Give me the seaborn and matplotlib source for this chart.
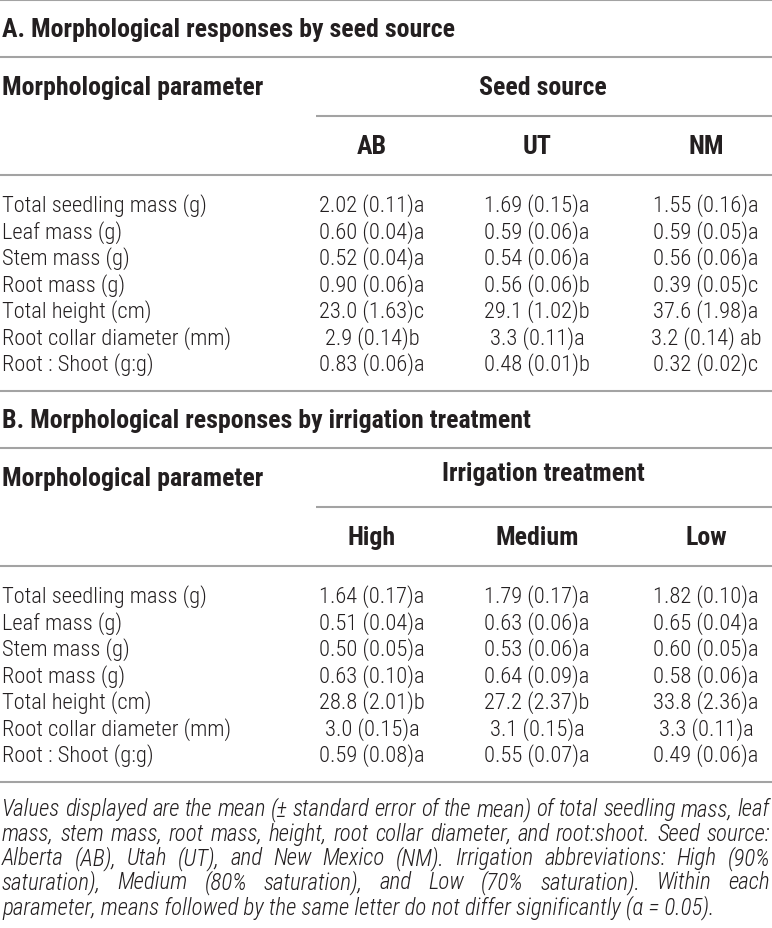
import matplotlib
matplotlib.use("Agg")
import matplotlib.pyplot as plt
import seaborn as sns

sns.set_theme(style="white")
plt.rcParams["font.family"] = ["Roboto Condensed", "Liberation Sans", "DejaVu Sans"]

# Table data
parameters = ["Total seedling mass (g)", "Leaf mass (g)", "Stem mass (g)", "Root mass (g)",
              "Total height (cm)", "Root collar diameter (mm)", "Root : Shoot (g:g)"]

seed_sources = ["AB", "UT", "NM"]
ab_vals = ["2.02 (0.11)a", "0.60 (0.04)a", "0.52 (0.04)a", "0.90 (0.06)a",
           "23.0 (1.63)c", "2.9 (0.14)b", "0.83 (0.06)a"]
ut_vals = ["1.69 (0.15)a", "0.59 (0.06)a", "0.54 (0.06)a", "0.56 (0.06)b",
           "29.1 (1.02)b", "3.3 (0.11)a", "0.48 (0.01)b"]
nm_vals = ["1.55 (0.16)a", "0.59 (0.05)a", "0.56 (0.06)a", "0.39 (0.05)c",
           "37.6 (1.98)a", "3.2 (0.14) ab", "0.32 (0.02)c"]

irrigation = ["High", "Medium", "Low"]
high_vals = ["1.64 (0.17)a", "0.51 (0.04)a", "0.50 (0.05)a", "0.63 (0.10)a",
             "28.8 (2.01)b", "3.0 (0.15)a", "0.59 (0.08)a"]
medium_vals = ["1.79 (0.17)a", "0.63 (0.06)a", "0.53 (0.06)a", "0.64 (0.09)a",
               "27.2 (2.37)b", "3.1 (0.15)a", "0.55 (0.07)a"]
low_vals = ["1.82 (0.10)a", "0.65 (0.04)a", "0.60 (0.05)a", "0.58 (0.06)a",
            "33.8 (2.36)a", "3.3 (0.11)a", "0.49 (0.06)a"]

footnote_lines = [
    "Values displayed are the mean (\u00b1 standard error of the mean) of total seedling mass, leaf",
    "mass, stem mass, root mass, height, root collar diameter, and root:shoot. Seed source:",
    "Alberta (AB), Utah (UT), and New Mexico (NM). Irrigation abbreviations: High (90%",
    "saturation), Medium (80% saturation), and Low (70% saturation). Within each",
    "parameter, means followed by the same letter do not differ significantly (\u03b1 = 0.05).",
]

W, H = 772, 929
fig = plt.figure(figsize=(W / 100, H / 100), dpi=100)
ax = fig.add_axes([0, 0, 1, 1])
ax.set_xlim(0, W)
ax.set_ylim(H, 0)
ax.axis("off")
renderer = fig.canvas.get_renderer()


def text_width(s, size, **kw):
    t = ax.text(0, 0, s, fontsize=size, **kw)
    w = t.get_window_extent(renderer).width
    t.remove()
    return w


body_kw = dict(fontweight="light")
note_kw = dict(fontweight="light", style="italic")

# fit font sizes to the widths seen in the reference
fs = 10 * 205 / text_width("Total seedling mass (g)", 10, **body_kw)
fs_bold = 10 * 455 / text_width("A. Morphological responses by seed source", 10, fontweight="bold")
fs_note = 10 * 768 / text_width(footnote_lines[0], 10, **note_kw)

line_col = "#a3a3a3"
txt_col = "#231f20"
col_x = [372, 537, 706]
pitch = 26.5
block_h = 391


def hline(y, x0=0, x1=W):
    ax.plot([x0, x1], [y, y], color=line_col, lw=1.5, solid_capstyle="butt")


def block(y0, title, group, cols, values, group_dy=0):
    ax.text(2, y0 + 29, title, fontsize=fs_bold, fontweight="bold", va="center", color=txt_col)
    hline(y0 + 57)
    ax.text(2, y0 + 87, "Morphological parameter", fontsize=fs_bold, fontweight="bold",
            va="center", color=txt_col)
    ax.text(543, y0 + 87 + group_dy, group, fontsize=fs_bold, fontweight="bold", ha="center",
            va="center", color=txt_col)
    hline(y0 + 116, 316, W)
    for cx, c in zip(col_x, cols):
        ax.text(cx, y0 + 146, c, fontsize=fs_bold, fontweight="bold", ha="center",
                va="center", color=txt_col)
    hline(y0 + 175)
    for i, p in enumerate(parameters):
        y = y0 + 205 + i * pitch
        ax.text(2, y, p, fontsize=fs, va="center", color=txt_col, **body_kw)
        for cx, vals in zip(col_x, values):
            ax.text(cx, y, vals[i], fontsize=fs, ha="center", va="center", color=txt_col,
                    **body_kw)
    hline(y0 + block_h)


hline(1)
block(1, "A. Morphological responses by seed source", "Seed source", seed_sources,
      [ab_vals, ut_vals, nm_vals])
yB = 1 + block_h
block(yB, "B. Morphological responses by irrigation treatment", "Irrigation treatment",
      irrigation, [high_vals, medium_vals, low_vals], group_dy=-5)

# justified italic footnote
y_note = yB + block_h + 27
for k, line in enumerate(footnote_lines):
    y = y_note + k * 24.3
    words = line.split(" ")
    if k == len(footnote_lines) - 1:
        ax.text(2, y, line, fontsize=fs_note, va="center", color=txt_col, **note_kw)
        continue
    arts = [ax.text(0, y, w, fontsize=fs_note, va="center", color=txt_col, **note_kw)
            for w in words]
    widths = [a.get_window_extent(renderer).width for a in arts]
    gap = (W - 4 - sum(widths)) / (len(words) - 1)
    x = 2
    for a, wd in zip(arts, widths):
        a.set_x(x)
        x += wd + gap

fig.savefig("out.png", dpi=100)
